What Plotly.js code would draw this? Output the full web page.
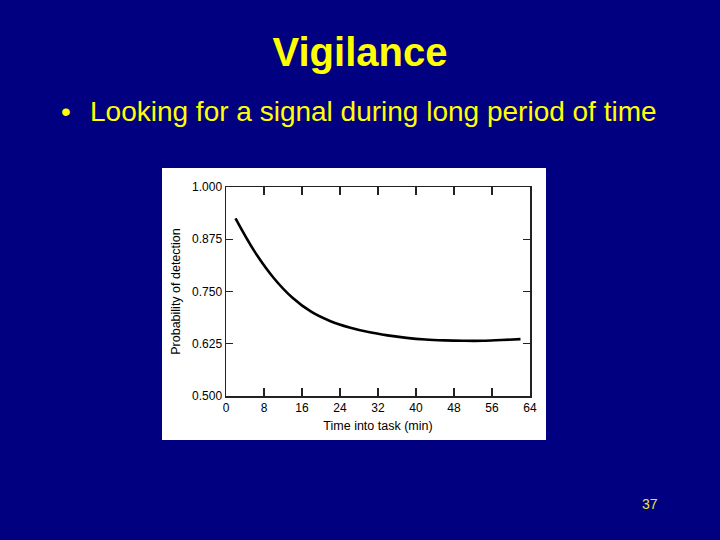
<!DOCTYPE html>
<html>
<head>
<meta charset="utf-8">
<script src="https://cdn.plot.ly/plotly-3.0.1.min.js"></script>
<style>
  html, body { margin: 0; padding: 0; background: #000080; }
  #chart { width: 720px; height: 540px; }
</style>
</head>
<body>
<div id="chart"></div>
<script>
// ---- data ----
const timeMin = [2, 6, 10, 14, 18, 22, 26, 30, 34, 38, 42, 46, 50, 54, 58, 62];
const probDetection = [0.925, 0.846, 0.783, 0.735, 0.701, 0.679, 0.664, 0.653, 0.645, 0.639, 0.635, 0.633, 0.632, 0.632, 0.634, 0.636];
const xTicks = [0, 8, 16, 24, 32, 40, 48, 56, 64];
const yTicks = [0.500, 0.625, 0.750, 0.875, 1.000];
const yTickText = ['0.500', '0.625', '0.750', '0.875', '1.000'];
const slideTitle = 'Vigilance';
const bulletText = 'Looking for a signal during long period of time';
const pageNumber = '37';
const xTitle = 'Time into task (min)';
const yTitle = 'Probability of detection';

// ---- layout helpers (pixel -> paper coordinates) ----
const W = 720, H = 540;
const M = { l: 226, r: 190, t: 187, b: 144 };
const PW = W - M.l - M.r, PH = H - M.t - M.b;
const px = x => (x - M.l) / PW;
const py = y => (H - M.b - y) / PH;

const FONT = '"Liberation Sans", Arial, Helvetica, sans-serif';
const YELLOW = '#ffff00';

const trace = {
  x: timeMin,
  y: probDetection,
  type: 'scatter',
  mode: 'lines',
  line: { color: '#000000', width: 2.6, shape: 'spline', smoothing: 1 },
  hoverinfo: 'skip',
  showlegend: false
};

const layout = {
  width: W,
  height: H,
  margin: M,
  paper_bgcolor: '#000080',
  plot_bgcolor: '#ffffff',
  showlegend: false,
  title: {
    text: '<b>' + slideTitle + '</b>',
    font: { family: FONT, size: 40, color: YELLOW },
    x: 0.5, xref: 'container', xanchor: 'center',
    y: 1 - 52 / H, yref: 'container', yanchor: 'middle'
  },
  xaxis: {
    range: [0, 64],
    tickvals: xTicks,
    ticktext: xTicks.map(String),
    ticks: 'inside', ticklen: 8, tickwidth: 1.3, tickcolor: '#222',
    showline: true, linecolor: '#222', linewidth: 1.5,
    mirror: 'ticks',
    showgrid: false, zeroline: false,
    tickfont: { family: FONT, size: 12, color: '#000' },
    title: { text: xTitle, font: { family: FONT, size: 12.5, color: '#000' }, standoff: 7 },
    fixedrange: true
  },
  yaxis: {
    range: [0.5, 1.0],
    tickvals: yTicks,
    ticktext: yTickText,
    ticks: 'inside', ticklen: 7, tickwidth: 1.3, tickcolor: '#222',
    showline: true, linecolor: '#222', linewidth: 1.5,
    mirror: 'ticks',
    showgrid: false, zeroline: false,
    tickfont: { family: FONT, size: 12, color: '#000' },
    title: { text: yTitle, font: { family: FONT, size: 12.5, color: '#000' }, standoff: 8 },
    fixedrange: true
  },
  shapes: [
    {
      type: 'rect', layer: 'below',
      xref: 'paper', yref: 'paper',
      x0: px(162), x1: px(546), y0: py(440), y1: py(168),
      fillcolor: '#ffffff', line: { width: 0 }
    }
  ],
  annotations: [
    {
      text: '•', xref: 'paper', yref: 'paper',
      x: px(66), y: py(111), xanchor: 'center', yanchor: 'middle',
      showarrow: false, font: { family: FONT, size: 28, color: YELLOW }
    },
    {
      text: bulletText, xref: 'paper', yref: 'paper',
      x: px(88), y: py(111), xanchor: 'left', yanchor: 'middle',
      showarrow: false, font: { family: FONT, size: 28, color: YELLOW }
    },
    {
      text: pageNumber, xref: 'paper', yref: 'paper',
      x: px(650), y: py(504), xanchor: 'center', yanchor: 'middle',
      showarrow: false, font: { family: FONT, size: 14, color: '#e6e62e' }
    }
  ]
};

Plotly.newPlot('chart', [trace], layout, { displayModeBar: false, staticPlot: true });
</script>
</body>
</html>
